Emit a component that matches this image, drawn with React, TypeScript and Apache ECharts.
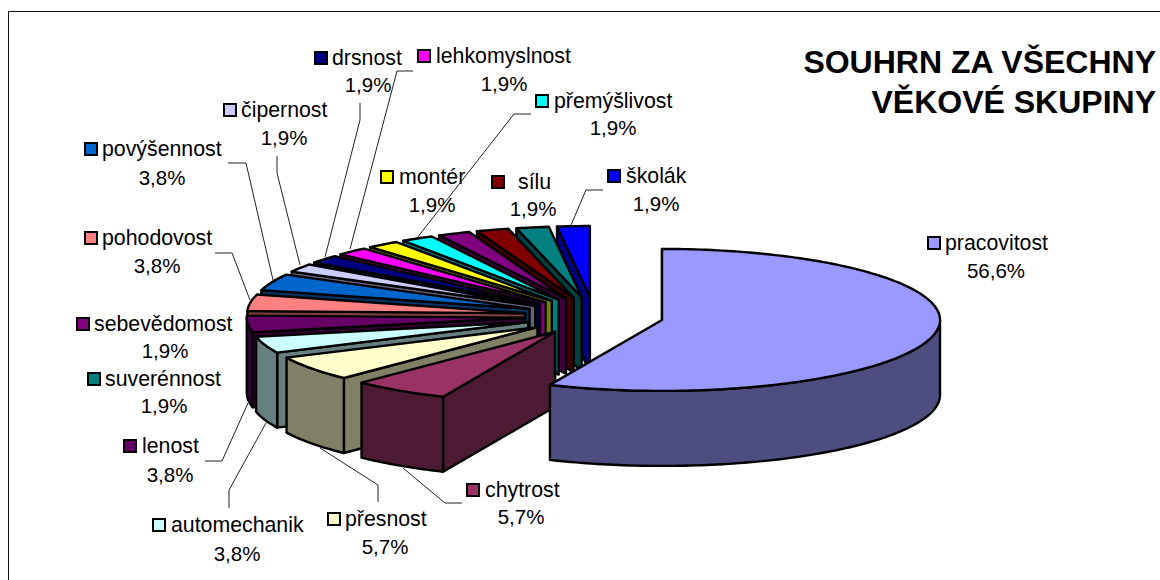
import React, { useEffect, useRef } from "react";
import * as echarts from "echarts";

const categories = ["pracovitost","chytrost","přesnost","automechanik","lenost","pohodovost","povýšennost","čipernost","drsnost","lehkomyslnost","montér","přemýšlivost","sebevědomost","sílu","suverénnost","školák"];
const counts = [30,3,3,2,2,2,2,1,1,1,1,1,1,1,1,1];
const colors = ["#9999FF","#993366","#FFFFCC","#CCFFFF","#660066","#FF8080","#0066CC","#CCCCFF","#000080","#FF00FF","#FFFF00","#00FFFF","#800080","#800000","#008080","#0000FF"];
const wallColors = ["#4D4D80","#4D1A33","#808066","#668080","#330033","#804040","#003366","#666680","#000040","#800080","#808000","#008080","#400040","#400000","#004040","#000080"];
const titleLines = ["SOUHRN ZA VŠECHNY","VĚKOVÉ SKUPINY"];

// Layout only (pie projection, label anchors, leader lines)
const PIE = { cx: 594, cy: 316, rx: 278, ry: 71, ex: 69.5, ey: 19, depth: 75 };
// key left, name y, pct centre x, pct y, name left
const LABEL_LAYOUT: number[][] = [
  [927,243,996,270,945],[466,490,521,516,485],[327,519,385,546,345],[152,525,237,553,171],
  [123,446,170,474,142],[84,238,157,265,102],[84,149,162,177,102],[223,110,284,137,241],
  [314,58,368,84,332],[417,56,504,83,436],[380,177,432,204,399],[535,101,613,127,554],
  [76,324,165,350,94],[491,182,533,208,518],[87,379,164,405,105],[607,176,656,203,626],
];
const LEADERS: number[][][] = [
  [],[[403,468],[445,503],[462,503]],[[320,448],[378,485],[378,502]],[[266,423],[229,490],[229,508]],
  [[248,403],[222,461],[205,461]],[[215,253],[232,253],[250,300]],[[228,163],[246,163],[273,280]],[[277,156],[277,173],[300,265]],
  [[360,103],[360,120],[325,257]],[[413,71],[397,71],[350,249]],[],[[531,114],[514,114],[417,238]],
  [],[],[],[[603,190],[586,190],[571,225]],
];

const total = counts.reduce((a, b) => a + b, 0);
const starts: number[] = [];
counts.reduce((acc, v, i) => { starts[i] = acc; return acc + v; }, 0);
const pct = (v: number) => ((v / total) * 100).toFixed(1).replace(".", ",") + "%";

function renderSlice(_p: any, api: any) {
  const idx = api.value(0);
  const a0 = (api.value(1) / total) * Math.PI * 2;
  const a1 = ((api.value(1) + api.value(2)) / total) * Math.PI * 2;
  const mid = (a0 + a1) / 2;
  const ax = PIE.cx + PIE.ex * Math.sin(mid);
  const ay = PIE.cy - PIE.ey * Math.cos(mid);
  const pt = (t: number, dy = 0) => [ax + PIE.rx * Math.sin(t), ay - PIE.ry * Math.cos(t) + dy];
  const arc = (s: number, e: number, dy = 0) => {
    const n = Math.max(2, Math.ceil((e - s) / 0.02));
    const out: number[][] = [];
    for (let k = 0; k <= n; k++) out.push(pt(s + ((e - s) * k) / n, dy));
    return out;
  };
  const base = { stroke: "#000", lineWidth: 2.4, lineJoin: "round" };
  const d = PIE.depth;
  const children: any[] = [];
  children.push({
    type: "polygon",
    shape: { points: [[ax, ay], pt(a0), pt(a0, d), [ax, ay + d]] },
    style: { ...base, fill: wallColors[idx] },
  });
  const ws = Math.max(a0, Math.PI / 2);
  const we = Math.min(a1, (Math.PI * 3) / 2);
  if (we > ws) {
    children.push({
      type: "polygon",
      shape: { points: [...arc(ws, we), ...arc(ws, we, d).reverse()] },
      style: { ...base, fill: wallColors[idx] },
    });
  }
  children.push({
    type: "polygon",
    shape: { points: [[ax, ay], ...arc(a0, a1)] },
    style: { ...base, fill: colors[idx] },
  });
  return { type: "group", children };
}

const FONT = '"Liberation Sans", Arial, sans-serif';

function buildGraphics() {
  const els: any[] = [];
  els.push({ type: "polyline", silent: true, shape: { points: [[8.5, 580], [8.5, 11.5], [1160, 11.5]] }, style: { stroke: "#111", lineWidth: 1, fill: "none" } });
  titleLines.forEach((t, i) => {
    els.push({ type: "text", silent: true, x: 1156, y: 62 + i * 40, style: { text: t, fill: "#000", font: `bold 32px ${FONT}`, textAlign: "right", textVerticalAlign: "middle" } });
  });
  categories.forEach((name, i) => {
    const [kx, ny, px, py, nx] = LABEL_LAYOUT[i];
    els.push({ type: "rect", silent: true, shape: { x: kx + 1, y: ny - 6, width: 12, height: 12 }, style: { fill: colors[i], stroke: "#000", lineWidth: 2 } });
    els.push({ type: "text", silent: true, x: nx, y: ny, style: { text: name, fill: "#000", font: `21.3px ${FONT}`, textAlign: "left", textVerticalAlign: "middle" } });
    els.push({ type: "text", silent: true, x: px, y: py, style: { text: pct(counts[i]), fill: "#000", font: `20.5px ${FONT}`, textAlign: "center", textVerticalAlign: "middle" } });
    if (LEADERS[i].length) {
      els.push({ type: "polyline", silent: true, z: 5, shape: { points: LEADERS[i] }, style: { stroke: "#222", lineWidth: 1, fill: "none" } });
    }
  });
  return els;
}

export default function App() {
  const ref = useRef<HTMLDivElement>(null);
  useEffect(() => {
    const chart = echarts.init(ref.current!, null, { renderer: "svg" });
    const order = categories.map((_, i) => i).reverse();
    chart.setOption({
      animation: false,
      backgroundColor: "#fff",
      graphic: { elements: buildGraphics() },
      series: [{
        type: "custom",
        coordinateSystem: "none",
        silent: true,
        renderItem: renderSlice,
        data: order.map((i) => [i, starts[i], counts[i]]),
      }],
    });
    return () => chart.dispose();
  }, []);
  return <div ref={ref} style={{ position: "fixed", left: 0, top: 0, width: 1160, height: 580 }} />;
}
